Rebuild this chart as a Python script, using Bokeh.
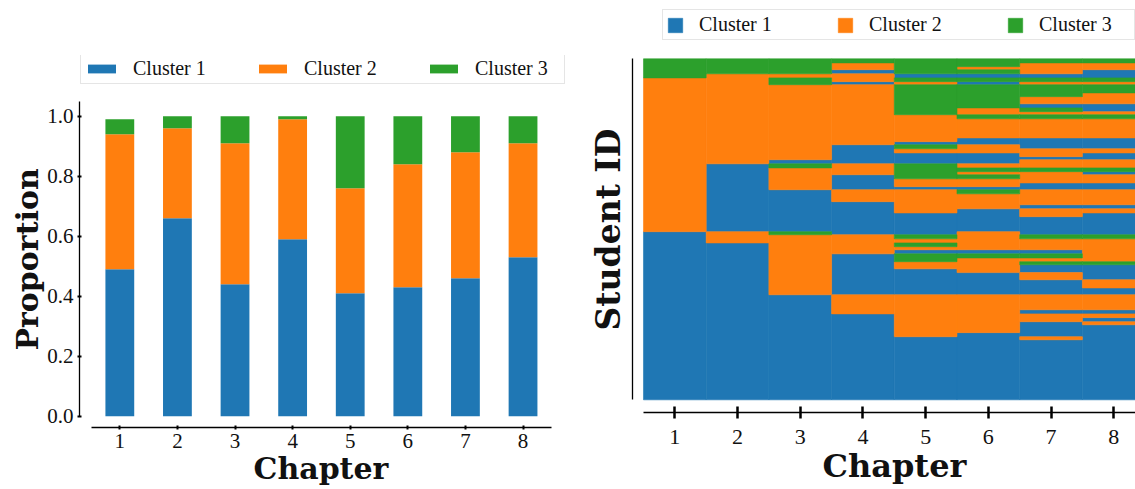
from bokeh.plotting import figure
from bokeh.layouts import row
from bokeh.models import Range1d, FixedTicker, PrintfTickFormatter, Legend, LegendItem, Title
from bokeh.embed import file_html
from bokeh.resources import INLINE

# ---------------- data ----------------
chapters = [1, 2, 3, 4, 5, 6, 7, 8]
cluster_names = ["Cluster 1", "Cluster 2", "Cluster 3"]
cluster_colors = ["#1f77b4", "#ff7f0e", "#2ca02c"]

# proportion of students per cluster in each chapter (left panel)
prop_cluster1 = [0.49, 0.66, 0.44, 0.59, 0.41, 0.43, 0.46, 0.53]
prop_cluster2 = [0.45, 0.30, 0.47, 0.40, 0.35, 0.41, 0.42, 0.38]
prop_cluster3 = [0.05, 0.04, 0.09, 0.01, 0.24, 0.16, 0.12, 0.09]

# student-by-chapter assignments (right panel): run boundaries in % of students
# (0 = first student at the top) and the cluster of each run
ch1_breaks = [0, 5.6, 50.7, 100]
ch1_clusters = [3, 2, 1]
ch2_breaks = [0, 4.4, 30.8, 50.7, 54.0, 100]
ch2_clusters = [3, 2, 1, 2, 1]
ch3_breaks = [0, 4.4, 5.6, 7.6, 29.6, 30.8, 32.0, 38.4, 50.7, 51.6, 69.2, 100]
ch3_clusters = [3, 2, 3, 2, 1, 3, 2, 1, 3, 2, 1]
ch4_breaks = [0, 1.2, 3.2, 4.4, 6.7, 7.6, 25.2, 30.8, 34.0, 38.4, 41.9, 51.6, 57.2,
              69.2, 74.8, 100]
ch4_clusters = [3, 2, 1, 2, 1, 2, 1, 2, 1, 2, 1, 2, 1, 2, 1]
ch5_breaks = [0, 4.4, 5.6, 6.7, 7.6, 16.4, 24.3, 25.2, 26.4, 27.6, 30.8, 35.2, 37.5,
              38.4, 45.2, 51.6, 52.8, 54.0, 55.1, 56.0, 57.2, 59.5, 61.6, 69.2, 81.5, 100]
ch5_clusters = [3, 1, 3, 2, 3, 2, 1, 3, 2, 1, 3, 2, 1, 2, 1, 3, 2, 3, 2, 1, 3, 2, 1, 2, 1]
ch6_breaks = [0, 2.3, 3.2, 4.4, 5.6, 6.7, 7.6, 14.4, 16.4, 17.6, 23.2, 25.2, 27.6, 30.8,
              32.0, 33.1, 34.0, 35.2, 37.5, 38.4, 39.6, 44.0, 50.7, 56.0, 57.2, 58.4, 62.7,
              69.2, 80.3, 100]
ch6_clusters = [3, 2, 3, 1, 3, 1, 3, 2, 3, 2, 1, 2, 1, 2, 3, 2, 3, 2, 1, 3, 2, 1, 2, 1,
                3, 2, 1, 2, 1]
ch7_breaks = [0, 1.2, 4.4, 5.6, 6.7, 7.6, 11.1, 13.2, 14.4, 15.5, 16.4, 17.6, 23.2, 26.4,
              28.7, 29.6, 32.0, 33.1, 36.4, 38.4, 42.8, 44.0, 46.3, 51.6, 52.8, 56.0, 57.2,
              58.4, 59.5, 60.4, 62.7, 64.8, 69.2, 73.6, 74.8, 77.1, 81.5, 82.4, 100]
ch7_clusters = [3, 2, 1, 3, 2, 3, 2, 1, 3, 2, 3, 2, 1, 2, 1, 2, 3, 2, 1, 2, 1, 2, 1, 3,
                2, 1, 3, 2, 3, 1, 2, 1, 2, 1, 2, 1, 2, 1]
ch8_breaks = [0, 1.2, 3.2, 5.6, 6.7, 7.6, 10.0, 13.2, 15.5, 16.4, 17.6, 23.2, 26.4, 27.6,
              29.6, 32.0, 33.1, 34.0, 36.4, 38.4, 42.8, 44.0, 45.2, 51.6, 52.8, 59.5, 60.4,
              64.8, 67.2, 69.2, 73.6, 74.8, 75.9, 77.1, 78.0, 100]
ch8_clusters = [3, 2, 1, 3, 2, 3, 2, 1, 2, 3, 2, 1, 2, 1, 2, 3, 1, 2, 1, 2, 1, 2, 1, 3,
                2, 3, 1, 2, 1, 2, 1, 2, 1, 2, 1]

all_breaks = [ch1_breaks, ch2_breaks, ch3_breaks, ch4_breaks,
              ch5_breaks, ch6_breaks, ch7_breaks, ch8_breaks]
all_clusters = [ch1_clusters, ch2_clusters, ch3_clusters, ch4_clusters,
                ch5_clusters, ch6_clusters, ch7_clusters, ch8_clusters]

TICK_FONT = "Liberation Serif"
LABEL_FONT = "DejaVu Serif"
TXT = "#111111"


def style_axis(ax, tick_in, tick_out, tick_w, tick_size):
    ax.axis_line_color = "black"
    ax.axis_line_width = 1.3
    ax.major_tick_line_color = "black"
    ax.major_tick_line_width = tick_w
    ax.major_tick_in = tick_in
    ax.major_tick_out = tick_out
    ax.minor_tick_line_color = None
    ax.major_label_text_font = TICK_FONT
    ax.major_label_text_font_size = tick_size
    ax.major_label_text_color = TXT


def axis_title(text, size, align, offset, standoff, valign):
    return Title(text=text, align=align, offset=offset, standoff=standoff,
                 vertical_align=valign, text_font=LABEL_FONT, text_font_style="bold",
                 text_font_size=size, text_color=TXT)


# ---------------- left: stacked proportions ----------------
pL = figure(width=580, height=489, x_range=Range1d(0.30, 8.824), y_range=Range1d(-0.0377, 1.2023),
            output_backend="svg", toolbar_location=None, frame_align=False,
            min_border_left=79, min_border_right=10, min_border_top=55, min_border_bottom=62)
pL.grid.visible = False
pL.outline_line_color = None
pL.background_fill_color = "white"
pL.border_fill_color = "white"

tops2 = [a + b for a, b in zip(prop_cluster1, prop_cluster2)]
tops3 = [t + c for t, c in zip(tops2, prop_cluster3)]
stack_bottoms = [[0] * len(chapters), prop_cluster1, tops2]
stack_tops = [prop_cluster1, tops2, tops3]
bar_renderers = []
for k in range(3):
    r = pL.vbar(x=chapters, width=0.5, bottom=stack_bottoms[k], top=stack_tops[k],
                fill_color=cluster_colors[k], line_color=None)
    bar_renderers.append(r)

xa = pL.xaxis[0]
style_axis(xa, 2, 2, 2, "21px")
xa.ticker = FixedTicker(ticks=chapters)
xa.bounds = (0.5, 8.5)
xa.major_label_standoff = 4

ya = pL.yaxis[0]
style_axis(ya, 2, 2, 2, "21px")
ya.ticker = FixedTicker(ticks=[0.0, 0.2, 0.4, 0.6, 0.8, 1.0])
ya.formatter = PrintfTickFormatter(format="%.1f")
ya.bounds = (0, 1.05)
ya.major_label_standoff = 4

pL.add_layout(axis_title("Proportion", "30px", "left", 77, 0, "bottom"), "left")
pL.add_layout(axis_title("Chapter", "30px", "left", 174, 0, "top"), "below")

legL = Legend(items=[LegendItem(label=n, renderers=[r]) for n, r in zip(cluster_names, bar_renderers)],
              location=(1, 343), orientation="horizontal", glyph_width=35, glyph_height=11,
              label_standoff=14, label_width=86, spacing=36, padding=3, margin=0,
              label_text_font=TICK_FONT, label_text_font_size="20px", label_text_color=TXT,
              border_line_color="#cccccc", border_line_width=1,
              background_fill_color="white", background_fill_alpha=1)
pL.add_layout(legL)

# ---------------- right: student assignments ----------------
pR = figure(width=555, height=489, x_range=Range1d(0.3246, 8.347), y_range=Range1d(103.72, -15.63),
            output_backend="svg", toolbar_location=None, frame_align=False,
            min_border_left=52, min_border_right=0, min_border_top=5, min_border_bottom=77)
pR.grid.visible = False
pR.outline_line_color = None
pR.background_fill_color = "white"
pR.border_fill_color = "white"

cell_renderers = []
for k in range(3):
    lefts, rights, tops, bots = [], [], [], []
    for ch, brk, cl in zip(chapters, all_breaks, all_clusters):
        for i, c in enumerate(cl):
            if c == k + 1:
                lefts.append(ch - 0.5)
                rights.append(ch + 0.5)
                tops.append(brk[i])
                bots.append(brk[i + 1])
    r = pR.quad(left=lefts, right=rights, top=tops, bottom=bots,
                fill_color=cluster_colors[k], line_color=cluster_colors[k], line_width=0.6)
    cell_renderers.append(r)

xr = pR.xaxis[0]
style_axis(xr, 6, 6, 2.5, "22px")
xr.ticker = FixedTicker(ticks=chapters)
xr.bounds = (0.5, 8.5)
xr.major_label_standoff = 11

yr = pR.yaxis[0]
style_axis(yr, 0, 0, 0, "10px")
yr.ticker = FixedTicker(ticks=[])
yr.bounds = (0, 100)
yr.major_label_standoff = 0

pR.add_layout(axis_title("Student ID", "33px", "left", 82, 10, "bottom"), "left")
pR.add_layout(axis_title("Chapter", "32px", "left", 190, 0, "top"), "below")

legR = Legend(items=[LegendItem(label=n, renderers=[r]) for n, r in zip(cluster_names, cell_renderers)],
              location=(30, 372), orientation="horizontal", glyph_width=18, glyph_height=18,
              label_standoff=15, label_width=92, spacing=45, padding=3, margin=0,
              label_text_font=TICK_FONT, label_text_font_size="20px", label_text_color=TXT,
              border_line_color="#cccccc", border_line_width=1,
              background_fill_color="white", background_fill_alpha=1)
pR.add_layout(legR)

layout = row(pL, pR)
open("out.html", "w").write(file_html(layout, INLINE))
